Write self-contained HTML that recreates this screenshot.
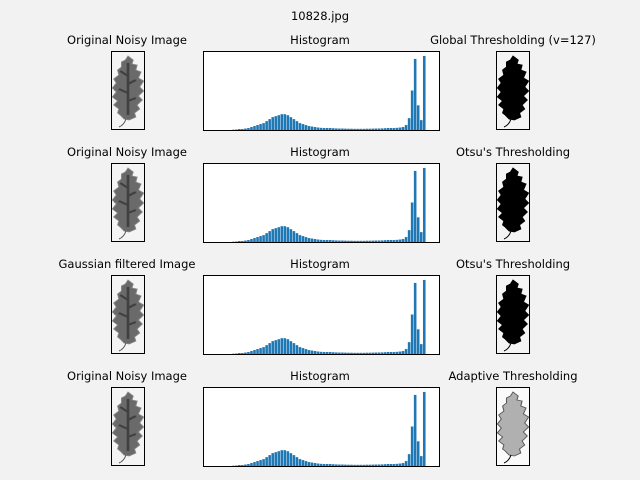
<!DOCTYPE html>
<html><head><meta charset="utf-8"><style>
body{margin:0;background:#f2f2f2;}
svg{display:block;font-family:"DejaVu Sans","Liberation Sans",sans-serif;}
</style></head><body>
<svg id="fig" width="640" height="480">
<rect width="640" height="480" fill="#f2f2f2"/>
<text x="320" y="20" font-size="11.5" text-anchor="middle">10828.jpg</text>
<g id="root"></g>
</svg>
<script>
const binValues=[0.3,0.5,1,1,1.5,2,3,4,5,6,7,9,11,13,14,15,16,16,15,13,11,9,7,6,5,4,3.5,3,2.5,2.2,2,2,2,1.8,1.6,1.5,1.5,1.4,1.3,1.3,1.2,1.2,1.2,1.2,1.3,1.3,1.4,1.5,1.5,1.6,1.8,2,2,2,2.2,2.5,3,5,12,40,72,25,10,75];
const rowTitlesLeft=["Original Noisy Image","Original Noisy Image","Gaussian filtered Image","Original Noisy Image"];
const rowTitlesRight=["Global Thresholding (v=127)","Otsu's Thresholding","Otsu's Thresholding","Adaptive Thresholding"];
const rowTops=[51,163,275,387];
const NS="http://www.w3.org/2000/svg";
const root=document.getElementById('root');
function mk(tag,attrs,parent){const e=document.createElementNS(NS,tag);for(const k in attrs)e.setAttribute(k,attrs[k]);(parent||root).appendChild(e);return e;}
const leafPts="17,5 21,9 20,13 24,14 23,19 27,21 25,27 29,30 26,36 29,40 25,45 28,49 24,54 26,58 22,62 23,66 18,69 14,68 11,64 9,62 10,58 6,54 9,50 5,46 8,41 5,37 8,32 6,28 10,24 9,19 12,16 12,11 15,9";
const xScale=i=>232+i*(194/binValues.length);
const plotH=79;
const yScale=v=>v/80*plotH;
function leaf(x,y,kind,name){
  const g=mk('g',{transform:`translate(${x},${y})`});
  
  
  mk('rect',{x:0,y:0,width:34,height:79,fill:kind==='adaptive'?'#fafafa':'#f4f4f4'},g);
  let fill=kind==='orig'?'#6a6a6a':kind==='adaptive'?'#b0b0b0':'#000';
  const inner=mk('g',{transform:'translate(17,0) scale(1.3,1) translate(-17,0)'},g);
  mk('polygon',{points:leafPts,fill:fill,stroke:kind==='adaptive'?'#555':(kind==='orig'?'#888':'#000'),'stroke-width':kind==='adaptive'?0.8:0.8},inner);
  if(kind==='orig'){mk('path',{d:'M17,12 L17,64 M17,25 L11,20 M17,33 L23,29 M17,42 L10,38 M17,50 L23,47',stroke:'#404040','stroke-width':2,fill:'none'},inner);}
  mk('path',{d:'M15,68 Q13,74 8,76',stroke:kind==='orig'?'#555':'#000','stroke-width':1,fill:'none'},g);
  mk('rect',{x:0.5,y:0.5,width:33,height:78,fill:'none',stroke:'#000','stroke-width':1},g);
}
rowTops.forEach((top,r)=>{
  const t1=mk('text',{x:127,y:top-7,'font-size':11.5,'text-anchor':'middle'});t1.textContent=rowTitlesLeft[r];
  
  
  const t2=mk('text',{x:320,y:top-7,'font-size':11.5,'text-anchor':'middle'});t2.textContent="Histogram";
  
  
  const t3=mk('text',{x:513,y:top-7,'font-size':11.5,'text-anchor':'middle'});t3.textContent=rowTitlesRight[r];
  
  
  leaf(111,top,'orig','original-image');
  leaf(496,top,r===0?'global':r===3?'adaptive':'otsu','thresholded-image');
  const hg=mk('g',{});
  
  
  mk('rect',{x:203,y:top,width:236,height:plotH,fill:'#fff'},hg);
  const bw=194/binValues.length;
  binValues.forEach((v,i)=>{
    const h=yScale(v);
    const b=mk('rect',{x:xScale(i),y:top+plotH-h,width:bw*0.85,height:h,fill:'#1f77b4'},hg);
    
    
  });
  mk('rect',{x:203.5,y:top+0.5,width:236,height:plotH,fill:'none',stroke:'#000','stroke-width':1},hg);
});
</script>
</body></html>
